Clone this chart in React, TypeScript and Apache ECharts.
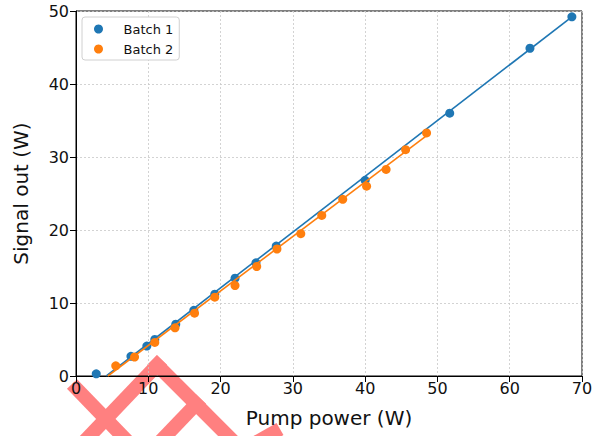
import React, { useEffect, useRef } from "react";
import * as echarts from "echarts";

const batch1X = [2.8, 7.6, 9.8, 10.9, 13.8, 16.3, 19.2, 22.0, 24.9, 27.7, 40.0, 51.7, 62.8, 68.6];
const batch1Y = [0.3, 2.7, 4.1, 5.0, 7.1, 9.0, 11.2, 13.4, 15.5, 17.8, 26.8, 36.0, 44.9, 49.2];
const batch2X = [5.5, 8.1, 10.9, 13.7, 16.4, 19.2, 22.0, 25.0, 27.8, 31.1, 34.0, 36.9, 40.2, 42.9, 45.6, 48.5];
const batch2Y = [1.4, 2.6, 4.6, 6.6, 8.6, 10.8, 12.4, 15.0, 17.4, 19.5, 22.0, 24.2, 26.0, 28.3, 31.0, 33.3];
const fit1X = [4.2, 68.6];
const fit1Y = [0, 49.2];
const fit2X = [4.4, 48.6];
const fit2Y = [0, 33.0];
const xTicks = [0, 10, 20, 30, 40, 50, 60, 70];
const yTicks = [0, 10, 20, 30, 40, 50];

const BLUE = "#1f77b4";
const ORANGE = "#ff7f0e";

const pairs = (xs: number[], ys: number[]) => xs.map((x, i) => [x, ys[i]]);

export default function App() {
  const ref = useRef<HTMLDivElement>(null);
  useEffect(() => {
    if (!ref.current) return;
    const chart = echarts.init(ref.current, undefined, { renderer: "svg" });
    const font = "DejaVu Sans";
    const wm = "#ff8080";
    const wmLine = (x1: number, y1: number, x2: number, y2: number) => ({
      type: "line",
      z: -1,
      shape: { x1, y1, x2, y2 },
      style: { stroke: wm, lineWidth: 14, lineCap: "butt" },
      silent: true,
    });
    chart.setOption({
      animation: false,
      backgroundColor: "#ffffff",
      textStyle: { fontFamily: font },
      grid: {
        left: 76,
        right: 27,
        top: 11,
        bottom: 60,
        show: true,
        borderColor: "#000",
        borderWidth: 1,
        backgroundColor: "transparent",
      },
      legend: {
        data: [
          { name: "Batch 1", icon: "circle", itemStyle: { color: BLUE } },
          { name: "Batch 2", icon: "circle", itemStyle: { color: ORANGE } },
        ],
        orient: "vertical",
        left: 82,
        top: 17,
        padding: [5, 6, 4, 12],
        itemWidth: 10,
        itemHeight: 9,
        itemGap: 6,
        borderColor: "#d0d0d0",
        borderWidth: 1,
        borderRadius: 3,
        backgroundColor: "#fff",
        textStyle: {
          fontFamily: font,
          fontSize: 13,
          color: "#111",
          lineHeight: 14,
          padding: [0, 0, 0, 15],
        },
      },
      xAxis: {
        type: "value",
        min: xTicks[0],
        max: xTicks[xTicks.length - 1],
        interval: 10,
        name: "Pump power (W)",
        nameLocation: "middle",
        nameGap: 32,
        nameTextStyle: { fontFamily: font, fontSize: 20, color: "#111" },
        axisLine: { show: true, onZero: false, lineStyle: { color: "#000", width: 1 } },
        axisTick: { show: true, length: 6, lineStyle: { color: "#000" } },
        axisLabel: { fontFamily: font, fontSize: 16, color: "#111", margin: 4 },
        splitLine: { show: true, lineStyle: { color: "#c8c8c8", type: [2, 2], width: 0.8 } },
      },
      yAxis: {
        type: "value",
        min: yTicks[0],
        max: yTicks[yTicks.length - 1],
        interval: 10,
        name: "Signal out (W)",
        nameLocation: "middle",
        nameGap: 45,
        nameTextStyle: { fontFamily: font, fontSize: 20, color: "#111" },
        axisLine: { show: true, onZero: false, lineStyle: { color: "#000", width: 1 } },
        axisTick: { show: true, length: 6, lineStyle: { color: "#000" } },
        axisLabel: { fontFamily: font, fontSize: 16, color: "#111", margin: 7 },
        splitLine: { show: true, lineStyle: { color: "#c8c8c8", type: [2, 2], width: 0.8 } },
      },
      series: [
        {
          name: "Batch 1",
          type: "scatter",
          data: pairs(batch1X, batch1Y),
          symbol: "circle",
          symbolSize: 9,
          itemStyle: { color: BLUE, opacity: 1 },
          z: 2,
        },
        {
          name: "Batch 1 fit",
          type: "line",
          data: pairs(fit1X, fit1Y),
          showSymbol: false,
          symbol: "none",
          lineStyle: { color: BLUE, width: 1.6 },
          itemStyle: { color: BLUE },
          z: 3,
        },
        {
          name: "Batch 2",
          type: "scatter",
          data: pairs(batch2X, batch2Y),
          symbol: "circle",
          symbolSize: 9,
          itemStyle: { color: ORANGE, opacity: 1 },
          z: 4,
        },
        {
          name: "Batch 2 fit",
          type: "line",
          data: pairs(fit2X, fit2Y),
          showSymbol: false,
          symbol: "none",
          lineStyle: { color: ORANGE, width: 1.6 },
          itemStyle: { color: ORANGE },
          z: 5,
        },
      ],
      graphic: [
        wmLine(72, 384, 132, 446),
        wmLine(162, 360, 80, 446),
        wmLine(152, 360, 238, 446),
        wmLine(201, 399, 156, 446),
        wmLine(250, 446, 280, 429),
      ],
    });
    return () => chart.dispose();
  }, []);
  return (
    <div
      ref={ref}
      style={{ position: "fixed", left: 0, top: 0, width: 609, height: 436, background: "#fff" }}
    />
  );
}
